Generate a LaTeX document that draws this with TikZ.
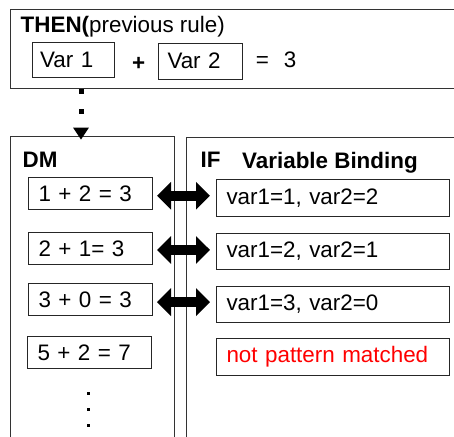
\documentclass[tikz,border=0pt]{standalone}
\usepackage{fontspec}
\setmainfont{Liberation Sans}
\usetikzlibrary{arrows.meta,calc}
\tikzset{
  panel/.style={draw=black!80,line width=1.3pt,anchor=north west,inner sep=0pt},
  lbl/.style={anchor=base west,inner sep=0pt},
  termbox/.style={draw=black!85,line width=1pt,anchor=north west,align=left,inner ysep=0pt},
  dmbox/.style={termbox,text width=104pt,inner xsep=10pt,minimum height=32.4pt},
  bindbox/.style={termbox,text width=213.3pt,inner xsep=10pt,minimum height=36.6pt},
  swap/.style={line width=10pt,{Triangle[length=14pt,width=27pt]}-{Triangle[length=14pt,width=27pt]},shorten <=4pt,shorten >=6pt},
  dotconn/.style={line width=5pt,dash pattern=on 5pt off 15pt,-{Triangle[length=12pt,width=15pt]}}
}
\begin{document}
\begin{tikzpicture}[x=1pt,y=-1pt,every node/.style={font=\fontsize{22.4}{26}\selectfont}]
\useasboundingbox (0,0) rectangle (454,436);
\clip (0,0) rectangle (454,436);
% previous rule
\node[panel,minimum width=470pt,minimum height=79pt] (then) at (9.5,9) {};
\node[lbl] (thentitle) at (20.5,33) {\bfseries THEN(\mdseries previous rule)};
\node[termbox,text width=66pt,inner xsep=8pt,minimum height=35pt] (var1) at (31.7,42) {Var 1};
\node[lbl] (plus) at (132,70) {\bfseries +};
\node[termbox,text width=66pt,inner xsep=9pt,minimum height=35.5pt] (var2) at (158,43) {Var 2};
\node[lbl] (sum) at (255.7,67) {=\hspace{15pt}3};
% DM and IF panels
\node[panel,minimum width=164pt,minimum height=320pt] (dm) at (9.5,135.7) {};
\node[panel,minimum width=300pt,minimum height=320pt] (if) at (186,137) {};
\node[lbl] (dmtitle) at (22.5,167) {\bfseries DM};
\node[lbl] (iftitle) at (200.5,167) {\bfseries IF};
\node[lbl] (bindtitle) at (242,168) {\bfseries Variable Binding};
\node[dmbox] (d1) at (28,176.7) {1 + 2 = 3};
\node[dmbox] (d2) at (28,231.7) {2 + 1= 3};
\node[dmbox] (d3) at (28,283) {3 + 0 = 3};
\node[dmbox] (d4) at (27,335.7) {5 + 2 = 7};
\node[bindbox] (b1) at (216,179.3) {var1=1, var2=2};
\node[bindbox] (b2) at (216,232.7) {var1=2, var2=1};
\node[bindbox] (b3) at (216,285.7) {var1=3, var2=0};
\node[bindbox,text=red] (b4) at (216,338) {not pattern matched};
\foreach \y in {392,408,424} \fill (87,\y) rectangle (89.5,\y+2.5);
% connectors
\coordinate (drop) at (81,0);
\draw[dotconn] (drop |- then.south) -- ([yshift=-4pt]drop |- dm.north);
\foreach \i in {1,2,3}{
  \coordinate (m\i) at ($(d\i.east)!.5!(b\i.west)$);
  \draw[swap] (m\i -| d\i.east) -- (m\i -| b\i.west);
}
\end{tikzpicture}
\end{document}
